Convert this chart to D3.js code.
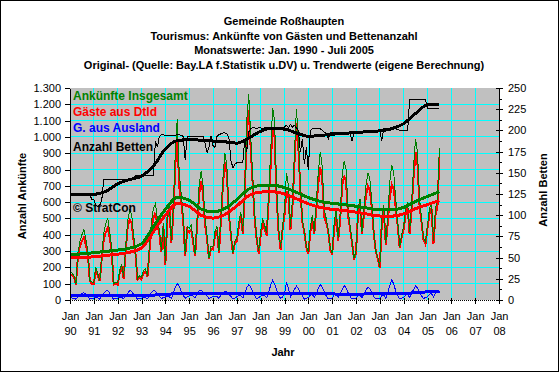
<!DOCTYPE html>
<html><head><meta charset="utf-8">
<script src="https://cdn.jsdelivr.net/npm/d3@7"></script>
<style>
html,body{margin:0;padding:0;background:#fff;}
svg{display:block;font-family:"Liberation Sans",Arial,sans-serif;}
</style></head><body>
<svg id="c" width="560" height="374"></svg>
<script>
// ---- Data (monthly, Jan 1990 - Jul 2005) ----
const startYear = 1990;
const titleLines = [
  "Gemeinde Roßhaupten",
  "Tourismus: Ankünfte von Gästen und Bettenanzahl",
  "Monatswerte: Jan. 1990 - Juli 2005",
  "Original- (Quelle: Bay.LA f.Statistik u.DV) u. Trendwerte (eigene Berechnung)"
];
const legendLabels = ["Ankünfte Insgesamt", "Gäste aus Dtld", "G. aus Ausland", "Anzahl Betten"];
const legendColors = ["#008000", "#ff0000", "#0000ff", "#000000"];

const ankuenfteGesamt = [
  170,165,150,100,290,360,400,430,370,300,120,110,
  110,200,160,120,280,410,470,500,420,320,100,110,
  105,180,220,140,320,480,550,530,400,300,130,150,
  140,180,190,150,330,480,560,590,500,430,300,470,
  230,520,600,360,560,900,1110,780,650,520,280,450,
  440,460,380,280,500,700,790,700,500,400,260,330,
  330,420,450,300,520,750,900,820,560,420,290,360,
  380,480,540,420,700,1100,1260,1000,760,520,380,300,
  420,500,460,410,650,900,1180,1100,700,450,320,450,
  560,780,700,450,620,900,1170,1000,720,500,420,330,
  296,450,520,420,600,780,910,820,560,500,430,320,
  288,470,560,380,520,760,850,800,560,460,360,257,
  300,560,620,420,560,700,780,740,600,420,300,260,
  204,500,580,350,520,720,830,780,620,480,327,400,
  450,560,600,420,600,820,990,900,620,500,380,357,
  460,560,600,360,560,620,930
];
const gaesteDtld = [
  155,153,140,95,270,330,360,385,335,280,115,100,
  98,185,148,115,255,370,415,440,380,300,95,102,
  95,165,205,132,295,440,492,475,365,278,124,140,
  128,165,176,142,300,435,500,535,460,405,292,455,
  212,498,580,350,520,820,1010,695,600,490,270,430,
  415,432,355,268,465,645,730,650,465,375,252,315,
  310,395,428,290,490,705,845,770,525,398,284,348,
  360,450,512,408,660,1025,1165,920,710,495,372,285,
  398,470,432,395,605,810,1060,1000,640,420,310,432,
  520,670,630,430,575,835,1085,930,675,475,415,320,
  281,420,485,405,560,710,815,740,510,475,422,310,
  276,440,525,365,485,695,762,725,515,438,354,249,
  290,532,590,408,525,640,700,670,560,400,294,252,
  196,475,550,338,475,630,708,680,565,455,319,388,
  435,530,565,405,560,755,905,825,575,475,370,342,
  440,525,560,342,520,570,875
];
const gaesteAusland = [
  15,12,10,5,20,30,40,45,35,20,5,10,
  12,15,12,5,25,40,55,60,40,20,5,8,
  10,15,15,8,25,40,58,55,35,22,6,10,
  12,15,14,8,30,45,60,55,40,25,8,15,
  18,22,20,10,40,80,100,85,50,30,10,20,
  25,28,25,12,35,55,60,50,35,25,8,15,
  20,25,22,10,30,45,55,50,35,22,6,12,
  20,30,28,12,40,75,95,80,50,25,8,15,
  22,30,28,15,45,90,120,100,60,30,10,18,
  40,110,70,20,45,65,85,70,45,25,5,10,
  15,30,35,15,40,70,95,80,50,25,8,10,
  12,30,35,15,35,65,88,75,45,22,6,8,
  10,28,30,12,35,60,80,70,40,20,6,8,
  8,25,30,12,45,90,122,100,55,25,8,12,
  15,30,35,15,40,65,85,75,45,25,10,15,
  20,35,40,18,40,50,55
];
const anzahlBetten = [
  125,125,125,125,125,125,125,125,125,125,125,118,
  118,112,110,112,118,142,142,142,142,142,142,142,
  142,142,142,142,142,142,142,142,142,147,147,147,
  147,147,147,147,147,147,147,187,180,193,195,195,
  194,194,194,194,194,194,195,195,194,193,165,193,
  193,193,193,193,193,193,193,193,185,174,180,193,
  182,180,193,195,196,197,197,196,192,165,156,160,
  162,162,162,162,190,175,198,202,203,203,202,203,
  203,202,203,203,204,203,203,203,203,203,203,203,
  204,206,203,207,204,206,203,200,175,190,160,180,
  153,200,202,202,202,202,202,200,198,197,190,197,
  197,197,197,197,197,197,197,197,197,197,188,197,
  197,199,199,199,199,199,199,199,199,199,199,199,
  199,188,202,202,202,202,202,202,202,201,200,200,
  200,200,200,236,236,236,236,236,236,236,236,236,
  226,226,226,226,226,226,226
];
// Trend values, half-yearly (1990.0, 1990.5, ... 2005.5)
const trendGesamt = [278,283,290,298,306,318,345,450,555,630,612,558,540,562,615,680,702,703,690,660,628,605,593,585,575,563,552,552,568,605,635,665];
const trendDtld   = [258,260,265,273,281,293,318,420,520,592,574,520,502,524,577,640,662,663,650,621,590,567,556,549,539,526,515,514,528,560,585,610];
const trendAusland= [25,25,25,25,25,26,27,30,35,38,38,38,37,37,38,39,40,40,40,39,38,38,37,36,36,37,37,38,40,45,50,55];
const trendBetten = [124,124,124.5,128,137,142,146,158,178,188,189,188.5,187.5,186.5,185,191,199,202.5,201.5,197,193,194,195.5,196.5,197.5,198.5,199.5,202,208,220,230,230];

const leftTicks = [0,100,200,300,400,500,600,700,800,900,1000,1100,1200,1300];
const leftTickLabels = ["0","100","200","300","400","500","600","700","800","900","1.000","1.100","1.200","1.300"];
const rightTicks = [0,25,50,75,100,125,150,175,200,225,250];
const xTickYears = [1990,1991,1992,1993,1994,1995,1996,1997,1998,1999,2000,2001,2002,2003,2004,2005,2006,2007,2008];
const xTickLabels = ["90","91","92","93","94","95","96","97","98","99","00","01","02","03","04","05","06","07","08"];

// ---- Drawing ----
const FONT = '"Liberation Sans", Arial, sans-serif';
const svg = d3.select("#c");
const L = 70, R = 499, T = 88, B = 300;

svg.append("rect").attr("x",0.5).attr("y",0.5).attr("width",558).attr("height",371)
  .attr("fill","#fff").attr("stroke","#000").attr("stroke-width",1);

const x = d3.scaleLinear().domain([1990,2008]).range([L,R]);
const yL = d3.scaleLinear().domain([0,1300]).range([B,T]);
const yR = d3.scaleLinear().domain([0,250]).range([B,T]);

svg.append("rect").attr("x",L).attr("y",T).attr("width",R-L).attr("height",B-T).attr("fill","#c0c0c0");

const grid = svg.append("g").attr("shape-rendering","crispEdges");
grid.selectAll("line.h").data(leftTicks.filter(v=>v>0 && v<1300)).join("line").attr("class","h")
  .attr("x1",L).attr("x2",R).attr("y1",d=>yL(d)).attr("y2",d=>yL(d)).attr("stroke","#00ffff");
grid.selectAll("line.v").data(xTickYears.filter(v=>v>1990 && v<2008)).join("line").attr("class","v")
  .attr("x1",d=>x(d)).attr("x2",d=>x(d)).attr("y1",T).attr("y2",B).attr("stroke","#00ffff");
grid.append("line").attr("x1",L).attr("x2",R).attr("y1",B).attr("y2",B)
  .attr("stroke","#000").attr("stroke-dasharray","1,1");

const monthX = (d,i) => x(startYear + i/12);
const halfX = (d,i) => x(startYear + i*0.5);
const lineL = d3.line().x(monthX).y(d=>yL(d));
const lineR = d3.line().x(monthX).y(d=>yR(d));
const trendL = d3.line().x(halfX).y(d=>yL(d)).curve(d3.curveMonotoneX);
const trendR = d3.line().x(halfX).y(d=>yR(d)).curve(d3.curveMonotoneX);

const plot = svg.append("g").attr("fill","none").attr("shape-rendering","crispEdges");
plot.append("path").attr("d",lineL(gaesteAusland)).attr("stroke","#0000ff").attr("stroke-width",1);
plot.append("path").attr("d",lineL(gaesteDtld)).attr("stroke","#ff0000").attr("stroke-width",2);
plot.append("path").attr("d",lineL(ankuenfteGesamt)).attr("stroke","#008000").attr("stroke-width",1);
plot.append("path").attr("d",trendL(trendDtld)).attr("stroke","#ff0000").attr("stroke-width",3);
plot.append("path").attr("d",trendL(trendGesamt)).attr("stroke","#008000").attr("stroke-width",3);
plot.append("path").attr("d",trendL(trendAusland)).attr("stroke","#0000ff").attr("stroke-width",3);
plot.append("path").attr("d",lineR(anzahlBetten)).attr("stroke","#000").attr("stroke-width",1);
plot.append("path").attr("d",trendR(trendBetten)).attr("stroke","#000").attr("stroke-width",3);

// Axes
function styleAxis(g){
  g.attr("font-family",FONT).attr("font-size",11).attr("shape-rendering","crispEdges");
  g.selectAll("text").attr("fill","#000");
  g.selectAll("line,path").attr("stroke","#000");
}
svg.append("g").attr("transform",`translate(${L},0)`)
  .call(d3.axisLeft(yL).tickValues(leftTicks).tickFormat((d,i)=>leftTickLabels[i]).tickSize(5).tickSizeOuter(0).tickPadding(4))
  .call(styleAxis);
svg.append("g").attr("transform",`translate(${R},0)`)
  .call(d3.axisRight(yR).tickValues(rightTicks).tickSize(4).tickSizeOuter(0).tickPadding(5))
  .call(styleAxis);
svg.append("g").attr("transform",`translate(${R},0)`)
  .call(d3.axisLeft(yR).tickValues(rightTicks).tickSize(3).tickSizeOuter(0).tickFormat(""))
  .call(styleAxis);
svg.append("g").attr("transform",`translate(${R},0)`)
  .call(d3.axisRight(yR).tickValues(rightTicks.slice(0,-1).map(v=>v+12.5)).tickSize(3).tickSizeOuter(0).tickFormat(""))
  .call(styleAxis);

const xa = svg.append("g").attr("transform",`translate(0,${B})`)
  .call(d3.axisBottom(x).tickValues(xTickYears).tickSize(4).tickSizeOuter(0).tickFormat(""))
  .call(styleAxis);
xa.select(".domain").remove();
xa.selectAll(".tick").each(function(d,i){
  const t = d3.select(this);
  t.append("line").attr("y1",-2).attr("y2",0).attr("stroke","#000");
  t.append("text").attr("y",20).attr("text-anchor","middle").attr("fill","#000").text("Jan");
  t.append("text").attr("y",35).attr("text-anchor","middle").attr("fill","#000").text(xTickLabels[i]);
});

// Titles
const tg = svg.append("g").attr("font-family",FONT).attr("font-size",11).attr("font-weight","bold").attr("text-anchor","middle");
titleLines.forEach((s,i)=>tg.append("text").attr("x",284).attr("y",25+i*14.7).text(s));

svg.append("text").attr("x",283).attr("y",356).attr("font-family",FONT).attr("font-size",11)
  .attr("font-weight","bold").attr("text-anchor","middle").text("Jahr");
svg.append("text").attr("transform","translate(26,196) rotate(-90)").attr("font-family",FONT).attr("font-size",11)
  .attr("font-weight","bold").attr("text-anchor","middle").text("Anzahl Ankünfte");
svg.append("text").attr("transform","translate(547,190) rotate(-90)").attr("font-family",FONT).attr("font-size",11)
  .attr("font-weight","bold").attr("text-anchor","middle").text("Anzahl Betten");

// Legend inside plot
const lg = svg.append("g").attr("font-family",FONT).attr("font-size",12).attr("font-weight","bold");
const legendY = [99.5, 116, 131.5, 150.5];
legendLabels.forEach((s,i)=>lg.append("text").attr("x",73).attr("y",legendY[i]).attr("fill",legendColors[i]).text(s));
lg.append("text").attr("x",73).attr("y",212).attr("fill","#000").text("© StratCon");
</script>
</body></html>
